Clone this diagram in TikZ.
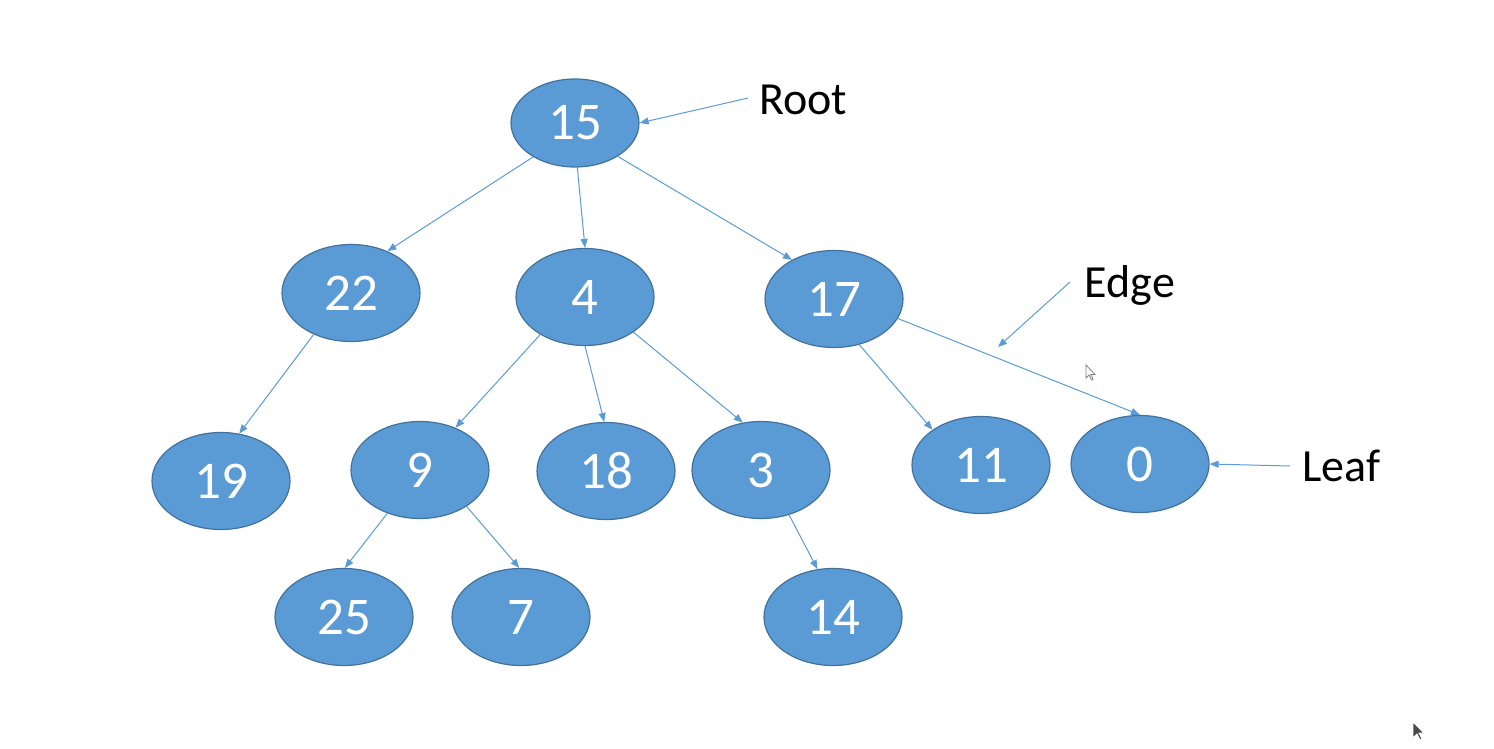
\documentclass[tikz,border=0pt]{standalone}
\usepackage{fontspec}
\setmainfont{Carlito}
\usetikzlibrary{shapes.geometric,arrows.meta}
\definecolor{nodefill}{HTML}{5B9BD5}
\definecolor{nodeline}{HTML}{41719C}
\definecolor{linkcol}{HTML}{5B9BD5}
\definecolor{cursorgray}{HTML}{4A4A4A}
\begin{document}
\begin{tikzpicture}[x=1pt,y=-1pt,
  tnode/.style={ellipse,draw=nodeline,line width=1.2pt,fill=nodefill,
    minimum width=138pt,minimum height=97pt,inner sep=0pt,text=white,
    font=\fontsize{53}{53}\selectfont},
  link/.style={draw=linkcol,line width=1pt,-{Triangle[length=9pt,width=7pt]}},
  lbl/.style={font=\fontsize{46}{46}\selectfont,text=black,inner sep=2pt},
  pointer/.style={line width=0.8pt,line join=miter}]
\useasboundingbox (0,0) rectangle (1494,749);

% tree nodes
\node[tnode,minimum width=128pt,minimum height=88pt] (n15) at (575,123) {15};
\node[tnode] (n22) at (351,293) {22};
\node[tnode] (n4)  at (585,297) {4};
\node[tnode] (n17) at (834,299) {17};
\node[tnode] (n19) at (221,481) {19};
\node[tnode] (n9)  at (420,470) {9};
\node[tnode] (n18) at (606,471) {18};
\node[tnode] (n3)  at (761,470) {3};
\node[tnode] (n11) at (981,465) {11};
\node[tnode] (n0)  at (1140,464) {0};
\node[tnode] (n25) at (344,617) {25};
\node[tnode] (n7)  at (521,617) {7};
\node[tnode] (n14) at (833,617) {14};

% parent to child links
\draw[link] (n15.-141) -- (n22.49);
\draw[link] (n15.-87)  -- (n4.90);
\draw[link] (n15.-38)  -- (n17.137);
\draw[link] (n22.-132) -- (n19.69);
\draw[link] (n4.-140)  -- (n9.50);
\draw[link] (n4.-90)   -- (n18.92);
\draw[link] (n4.-36)   -- (n3.111);
\draw[link] (n17.-61)  -- (n11.144);
\draw[link] (n17.-17)  -- (n0.90);
\draw[link] (n9.-127)  -- (n25.89);
\draw[link] (n9.-38)   -- (n7.92);
\draw[link] (n3.-58)   -- (n14.108);

% annotations
\node[lbl] (root) at (803,100) {Root};
\node[lbl] (edge) at (1130,285) {Edge};
\node[lbl] (leaf) at (1341,466) {Leaf};
\coordinate (edgept) at (998,347);
\coordinate (rootfrom) at (748,98);
\coordinate (edgefrom) at (1070,282);
\coordinate (leaffrom) at (1290,466);
\draw[link] (rootfrom) -- (n15.east);
\draw[link] (edgefrom) -- (edgept);
\draw[link] (leaffrom) -- (n0.east);

% mouse pointers
\draw[pointer,draw=gray,fill=white]
  (1086,365) -- (1086,378) -- (1089,375) -- (1091.5,380) -- (1093,379.2)
  -- (1090.8,374.5) -- (1095,374.5) -- cycle;
\draw[pointer,draw=white,fill=cursorgray]
  (1413,722) -- (1413,738) -- (1417,734) -- (1420,740) -- (1422,739)
  -- (1419,733) -- (1424,733) -- cycle;
\end{tikzpicture}
\end{document}
